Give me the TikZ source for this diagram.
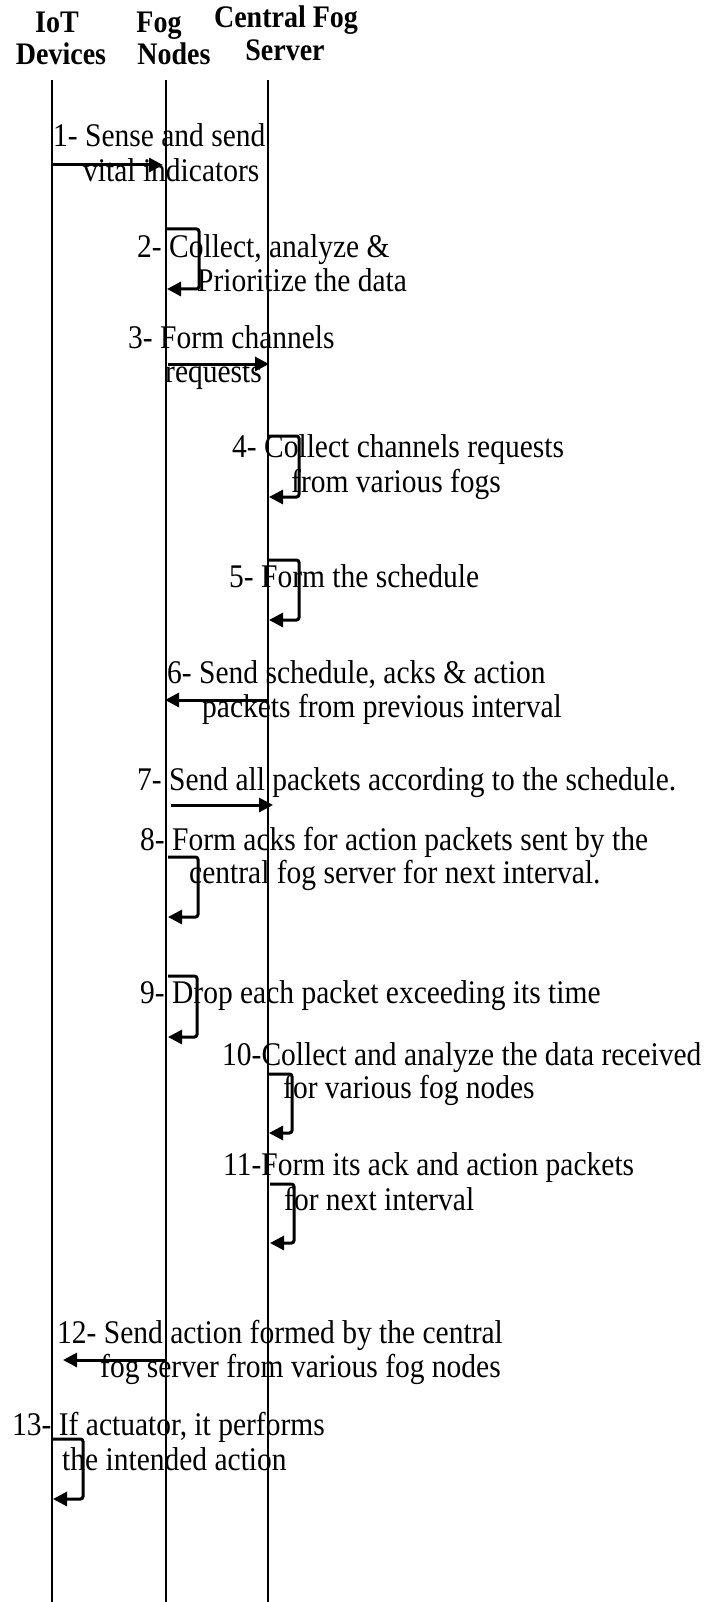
\documentclass[tikz,border=0pt]{standalone}
\usepackage{fontspec}
\usepackage{graphicx}
\setmainfont{Liberation Serif}
\usetikzlibrary{arrows.meta}
\newcommand\vstr[1]{\scalebox{1}[1.12]{#1}}
\begin{document}
\begin{tikzpicture}[x=1pt,y=-1pt,
  lifeline/.style={line width=1.8pt},
  msg/.style={line width=3pt,-{Triangle[length=14pt,width=14pt]}},
  selfloop/.style={line width=3pt,rounded corners=2.5pt,-{Triangle[length=14pt,width=14pt]}},
  lbl/.style={anchor=base west,inner sep=0pt,font=\fontsize{29.5}{34}\selectfont},
  hdr/.style={anchor=base,inner sep=0pt,font=\fontsize{28}{32}\selectfont\bfseries}]
\useasboundingbox (0,0) rectangle (705,1602);
% headers
\node[hdr] (h1a) at (57,33) {\vstr{IoT}};
\node[hdr] (h1b) at (61,65) {\vstr{Devices}};
\node[hdr] (h2a) at (159,33) {\vstr{Fog}};
\node[hdr] (h2b) at (174,65) {\vstr{Nodes}};
\node[hdr] (h3a) at (286,28) {\vstr{Central Fog}};
\node[hdr] (h3b) at (285,61) {\vstr{Server}};
% lifelines
\coordinate (iotT) at (52,80);  \coordinate (iotB) at (52,1602);
\coordinate (fogT) at (166,80); \coordinate (fogB) at (166,1602);
\coordinate (cenT) at (268,80); \coordinate (cenB) at (268,1602);
\draw[lifeline] (iotT) -- (iotB);
\draw[lifeline] (fogT) -- (fogB);
\draw[lifeline] (cenT) -- (cenB);
% step 1
\node[lbl] (t1a) at (53,147) {\vstr{1- Sense and send}};
\node[lbl] (t1b) at (83,182) {\vstr{vital indicators}};
\coordinate (m1s) at (52,165); \coordinate (m1e) at (163,165);
\draw[msg] (m1s) -- (m1e);
% step 2
\node[lbl] (t2a) at (137,258) {\vstr{2- Collect, analyze \&}};
\node[lbl] (t2b) at (197,292) {\vstr{Prioritize the data}};
\coordinate (l2s) at (167,229); \coordinate (l2e) at (167,289);
\draw[selfloop] (l2s) -- (199,229) -- (199,289) -- (l2e);
% step 3
\node[lbl] (t3a) at (128,348) {\vstr{3- Form channels}};
\node[lbl] (t3b) at (165,382) {\vstr{requests}};
\coordinate (m3s) at (168,364); \coordinate (m3e) at (269,364);
\draw[msg] (m3s) -- (m3e);
% step 4
\node[lbl] (t4a) at (232,457) {\vstr{4- Collect channels requests}};
\node[lbl] (t4b) at (291,492) {\vstr{from various fogs}};
\coordinate (l4s) at (269,436); \coordinate (l4e) at (269,497);
\draw[selfloop] (l4s) -- (299,436) -- (299,497) -- (l4e);
% step 5
\node[lbl] (t5a) at (229,587) {\vstr{5- Form the schedule}};
\coordinate (l5s) at (269,560); \coordinate (l5e) at (269,620);
\draw[selfloop] (l5s) -- (299,560) -- (299,620) -- (l5e);
% step 6
\node[lbl] (t6a) at (167,683) {\vstr{6- Send schedule, acks \& action}};
\node[lbl] (t6b) at (202,717) {\vstr{packets from previous interval}};
\coordinate (m6s) at (268,700); \coordinate (m6e) at (165,700);
\draw[msg] (m6s) -- (m6e);
% step 7
\node[lbl] (t7a) at (137,790) {\vstr{7- Send all packets according to the schedule.}};
\coordinate (m7s) at (171,805); \coordinate (m7e) at (273,805);
\draw[msg] (m7s) -- (m7e);
% step 8
\node[lbl] (t8a) at (140,850) {\vstr{8- Form acks for action packets sent by the}};
\node[lbl] (t8b) at (189,883) {\vstr{central fog server for next interval.}};
\coordinate (l8s) at (168,857); \coordinate (l8e) at (168,917);
\draw[selfloop] (l8s) -- (198,857) -- (198,917) -- (l8e);
% step 9
\node[lbl] (t9a) at (140,1003) {\vstr{9- Drop each packet exceeding its time}};
\coordinate (l9s) at (168,976); \coordinate (l9e) at (168,1037);
\draw[selfloop] (l9s) -- (197,976) -- (197,1037) -- (l9e);
% step 10
\node[lbl] (t10a) at (222,1065) {\vstr{10-Collect and analyze the data received}};
\node[lbl] (t10b) at (283,1098) {\vstr{for various fog nodes}};
\coordinate (l10s) at (269,1074); \coordinate (l10e) at (269,1133);
\draw[selfloop] (l10s) -- (292,1074) -- (292,1133) -- (l10e);
% step 11
\node[lbl] (t11a) at (223,1175) {\vstr{11-Form its ack and action packets}};
\node[lbl] (t11b) at (284,1210) {\vstr{for next interval}};
\coordinate (l11s) at (270,1184); \coordinate (l11e) at (270,1243);
\draw[selfloop] (l11s) -- (294,1184) -- (294,1243) -- (l11e);
% step 12
\node[lbl] (t12a) at (57,1343) {\vstr{12- Send action formed by the central}};
\node[lbl] (t12b) at (100,1377) {\vstr{fog server from various fog nodes}};
\coordinate (m12s) at (166,1360); \coordinate (m12e) at (63,1360);
\draw[msg] (m12s) -- (m12e);
% step 13
\node[lbl] (t13a) at (12,1435) {\vstr{13- If actuator, it performs}};
\node[lbl] (t13b) at (62,1470) {\vstr{the intended action}};
\coordinate (l13s) at (53,1439); \coordinate (l13e) at (53,1499);
\draw[selfloop] (l13s) -- (83,1439) -- (83,1499) -- (l13e);
\end{tikzpicture}
\end{document}
